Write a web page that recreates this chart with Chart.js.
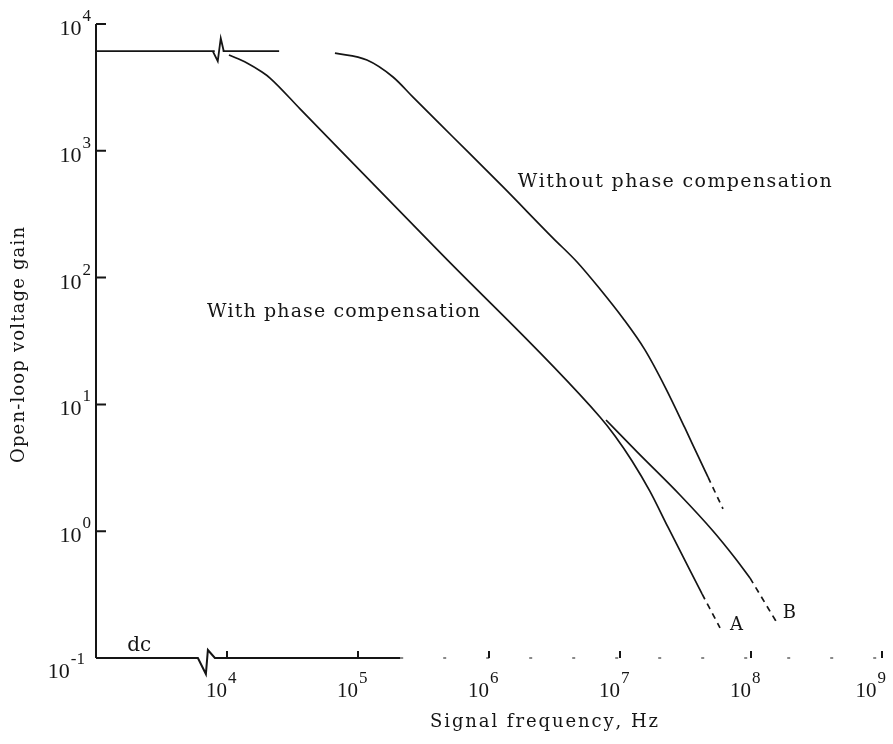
<!DOCTYPE html>
<html>
<head>
<meta charset="utf-8">
<script src="https://cdn.jsdelivr.net/npm/chart.js@4.4.1/dist/chart.umd.min.js"></script>
<style>
  html, body { margin: 0; padding: 0; background: #fff; }
  #wrap { width: 893px; height: 744px; }
</style>
</head>
<body>
<div id="wrap"><canvas id="myChart" width="893" height="744"></canvas></div>
<script>
const ctx = document.getElementById('myChart').getContext('2d');

// axis ranges (Hz, gain)
const xMin = 1e3, xMax = 1e9;
const yMin = 0.1, yMax = 1e4;

// tick labels: base 10 and exponent
const xTickVals = [1e4, 1e5, 1e6, 1e7, 1e8, 1e9];
const xTickExp = ['4', '5', '6', '7', '8', '9'];
const yTickVals = [1e4, 1e3, 1e2, 1e1, 1e0, 1e-1];
const yTickExp = ['4', '3', '2', '1', '0', '-1'];

// dc gain line (before the axis break)
const dcFreq = [1e3, 2.5e4];
const dcGain = [6100, 6100];

// without phase compensation
const woFreq = [6.67e4, 1.17e5, 1.85e5, 2.63e5, 5.31e5, 1.28e6, 3.08e6, 4.70e6, 7.03e6, 1.05e7, 1.55e7, 2.21e7, 3.13e7, 3.94e7, 4.70e7];
const woGain = [5900, 5200, 3820, 2650, 1285, 519, 205, 132.8, 81.3, 48, 26.9, 13.7, 6.52, 3.92, 2.67];
const woTailFreq = [4.70e7, 6.11e7];
const woTailGain = [2.67, 1.50];

// with phase compensation, running into branch A
const withFreq = [1.035e4, 1.42e4, 1.85e4, 2.13e4, 3.61e4, 4.08e5, 7.03e6, 9.16e6, 1.236e7, 1.69e7, 2.32e7, 4.23e7];
const withGain = [5700, 4930, 4180, 3750, 2143, 163.7, 7.96, 5.64, 3.58, 2.07, 1.08, 0.320];
const aTailFreq = [4.23e7, 5.80e7];
const aTailGain = [0.320, 0.173];

// branch B
const bFreq = [7.82e6, 1.35e7, 2.87e7, 5.13e7, 7.55e7, 9.82e7];
const bGain = [7.53, 4.22, 1.93, 1.004, 0.615, 0.428];
const bTailFreq = [9.82e7, 1.58e8];
const bTailGain = [0.428, 0.189];

// text placed on the plot (left edge / baseline in data units)
const notes = [
    { text: 'Without phase compensation', f: 1.66e6, g: 518, w: 314, size: 19 },
    { text: 'With phase compensation', f: 7.03e3, g: 48.9, w: 273, size: 19 },
    { text: 'A', f: 6.92e7, g: 0.166, size: 18 },
    { text: 'B', f: 1.75e8, g: 0.206, size: 18 },
    { text: 'dc', f: 1.73e3, g: 0.1135, size: 20 }
];
const axisBreakAt = 6.9e3;
const topBreakAt = 8.5e3;

const pts = (fs, gs) => fs.map((f, i) => ({ x: f, y: gs[i] }));

const ink = '#151515';
const serif = '"DejaVu Serif", serif';
const tickFont = '"Liberation Serif", serif';

function line(data, dashed) {
    return {
        data: data,
        borderColor: ink,
        borderWidth: 1.7,
        borderDash: dashed ? [6, 5] : [],
        pointRadius: 0,
        cubicInterpolationMode: 'monotone',
        fill: false
    };
}

// letters spread out to a given width, like the typed original
function spaced(c, text, x, y, width) {
    const chars = [...text];
    const ws = chars.map(ch => c.measureText(ch).width);
    const natural = ws.reduce((s, v) => s + v, 0);
    const gap = chars.length > 1 ? (width - natural) / (chars.length - 1) : 0;
    let cx = x;
    c.textAlign = 'left';
    chars.forEach((ch, i) => { c.fillText(ch, cx, y); cx += ws[i] + gap; });
}

const paper = {
    id: 'paper',
    afterDraw(chart) {
        const c = chart.ctx;
        const a = chart.chartArea;
        const x = chart.scales.x, y = chart.scales.y;
        c.save();
        c.strokeStyle = ink;
        c.fillStyle = ink;
        c.lineWidth = 2;
        c.lineJoin = 'miter';

        // y axis with inward ticks
        c.beginPath();
        c.moveTo(a.left, a.top);
        c.lineTo(a.left, a.bottom);
        yTickVals.forEach(v => {
            if (v === yMin) return;
            const py = y.getPixelForValue(v);
            c.moveTo(a.left, py);
            c.lineTo(a.left + 10, py);
        });
        c.stroke();

        // x axis with break symbol
        const bx = x.getPixelForValue(axisBreakAt);
        const b = a.bottom;
        const solidEnd = x.getPixelForValue(2.1e5);
        c.beginPath();
        c.moveTo(a.left, b);
        c.lineTo(bx - 8, b);
        c.lineTo(bx, b + 16);
        c.lineTo(bx + 2, b - 8);
        c.lineTo(bx + 9, b);
        c.lineTo(solidEnd, b);
        xTickVals.forEach(v => {
            const px = x.getPixelForValue(v);
            c.moveTo(px, b);
            c.lineTo(px, b - 7);
        });
        c.stroke();
        c.lineWidth = 1.2;
        c.setLineDash([3, 40]);
        c.beginPath();
        c.moveTo(solidEnd, b);
        c.lineTo(a.right, b);
        c.stroke();
        c.setLineDash([]);

        // break symbol on the dc line
        const tx = x.getPixelForValue(topBreakAt);
        const ty = y.getPixelForValue(dcGain[0]);
        c.lineWidth = 1.8;
        c.fillStyle = '#fff';
        c.fillRect(tx - 3, ty - 3, 8, 6);
        c.fillStyle = ink;
        c.beginPath();
        c.moveTo(tx - 5, ty);
        c.lineTo(tx, ty + 10);
        c.lineTo(tx + 3, ty - 13);
        c.lineTo(tx + 6, ty);
        c.stroke();

        // y tick labels
        c.textBaseline = 'alphabetic';
        yTickVals.forEach((v, i) => {
            const py = y.getPixelForValue(v);
            const low = v === yMin;
            const right = low ? a.left - 11 : a.left - 5;
            const base = py + (low ? 20 : 11);
            c.font = '17px ' + tickFont;
            const we = c.measureText(yTickExp[i]).width;
            c.textAlign = 'left';
            c.fillText(yTickExp[i], right - we, base - 14);
            c.font = '22px ' + tickFont;
            const wb = c.measureText('10').width;
            c.fillText('10', right - we - wb - 1, base);
        });

        // x tick labels: "10" ends at the tick, exponent to its right
        xTickVals.forEach((v, i) => {
            const px = x.getPixelForValue(v);
            c.font = '21px ' + tickFont;
            const wb = c.measureText('10').width;
            c.font = '17px ' + tickFont;
            const we = c.measureText(xTickExp[i]).width;
            const start = Math.min(px - wb, chart.width - 8 - wb - we);
            c.textAlign = 'left';
            c.fillText(xTickExp[i], start + wb + 1, b + 25);
            c.font = '21px ' + tickFont;
            c.fillText('10', start, b + 39);
        });

        // notes on the plot
        notes.forEach(n => {
            c.font = n.size + 'px ' + serif;
            const px = x.getPixelForValue(n.f);
            const py = y.getPixelForValue(n.g);
            if (n.w) spaced(c, n.text, px, py, n.w);
            else { c.textAlign = 'left'; c.fillText(n.text, px, py); }
        });

        // axis titles
        c.font = '18px ' + serif;
        spaced(c, 'Signal frequency, Hz', 430, 727, 228);
        c.translate(24, 463);
        c.rotate(-Math.PI / 2);
        spaced(c, 'Open-loop voltage gain', 0, 0, 236);
        c.restore();
    }
};

const myChart = new Chart(ctx, {
    type: 'line',
    data: {
        datasets: [
            line(pts(dcFreq, dcGain)),
            line(pts(woFreq, woGain)),
            line(pts(woTailFreq, woTailGain), true),
            line(pts(withFreq, withGain)),
            line(pts(aTailFreq, aTailGain), true),
            line(pts(bFreq, bGain)),
            line(pts(bTailFreq, bTailGain), true)
        ]
    },
    options: {
        responsive: false,
        animation: false,
        devicePixelRatio: 1,
        layout: { padding: { left: 96, right: 11, top: 24, bottom: 86 } },
        scales: {
            x: { type: 'logarithmic', min: xMin, max: xMax, display: false },
            y: { type: 'logarithmic', min: yMin, max: yMax, display: false }
        },
        plugins: {
            legend: { display: false },
            tooltip: { enabled: false }
        }
    },
    plugins: [paper]
});
</script>
</body>
</html>
